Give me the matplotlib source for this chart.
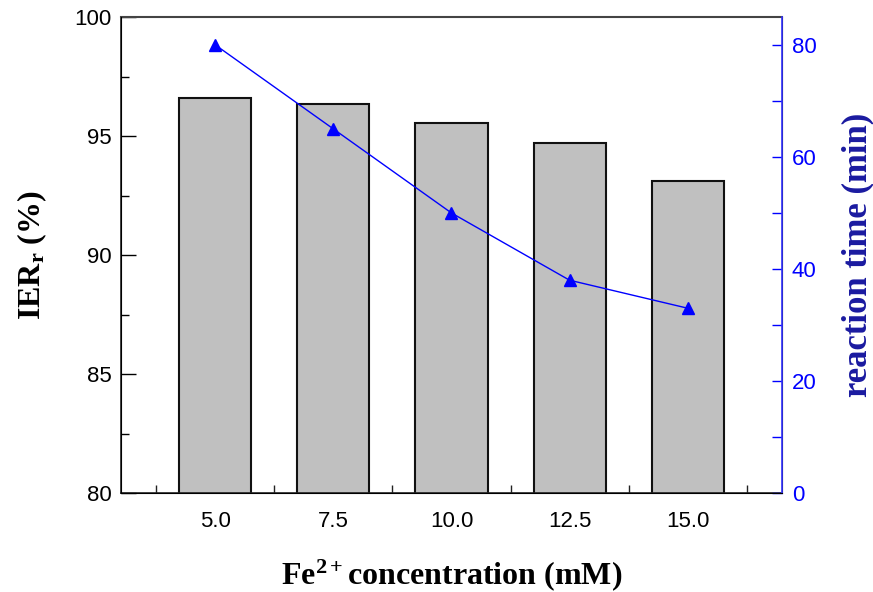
import matplotlib
matplotlib.use("Agg")
import matplotlib.pyplot as plt
from matplotlib.ticker import MultipleLocator, FixedLocator

categories = ["5.0", "7.5", "10.0", "12.5", "15.0"]
ier_values = [96.6, 96.35, 95.55, 94.7, 93.1]
time_values = [80, 65, 50, 38, 33]

plt.rcParams["font.family"] = ["Liberation Sans", "DejaVu Sans"]
plt.rcParams["mathtext.fontset"] = "custom"
plt.rcParams["mathtext.rm"] = "Liberation Serif:bold"
plt.rcParams["mathtext.bf"] = "Liberation Serif:bold"
plt.rcParams["mathtext.it"] = "Liberation Serif:bold"
plt.rcParams["mathtext.default"] = "bf"

fig = plt.figure(figsize=(8.73, 5.92), dpi=100)
ax = fig.add_axes([121/873, 1-493/592, (782-121)/873, (493-17)/592])
x = list(range(1, len(categories)+1))
ax.bar(x, ier_values, width=0.61, bottom=0, color="#c0c0c0", edgecolor="#111111", linewidth=1.5, zorder=2)
ax.set_ylim(80, 100)
ax.set_xlim(0.2, 5.8)
ax.set_xticks(x)
ax.set_xticklabels(categories)
ax.xaxis.set_minor_locator(FixedLocator([i + 0.5 for i in range(0, 6)]))
ax.tick_params(axis="x", which="major", length=0, pad=13, labelsize=16)
ax.tick_params(axis="x", which="minor", direction="in", length=6, width=1, color="#222222")
ax.yaxis.set_major_locator(MultipleLocator(5))
ax.yaxis.set_minor_locator(MultipleLocator(2.5))
ax.tick_params(axis="y", which="major", direction="in", length=11, width=1, labelsize=16, pad=7)
ax.tick_params(axis="y", which="minor", direction="in", length=6, width=1)
for s in ["left", "bottom"]:
    ax.spines[s].set_color("#222222")
    ax.spines[s].set_linewidth(1.2)
ax.spines["top"].set_color("#444444")
ax.spines["top"].set_linewidth(1.5)
ax.set_ylabel("IER$_{r}$ (%)", fontfamily="Liberation Serif", fontweight="bold", fontsize=23, labelpad=18)
ax.set_xlabel("Fe$^{2+}$concentration (mM)", fontfamily="Liberation Serif", fontweight="bold", fontsize=23, labelpad=18)

ax2 = ax.twinx()
ax2.plot(x, time_values, color="#0000ff", linewidth=1, marker="^", markersize=8, zorder=3)
ax2.set_ylim(0, 85)
ax2.yaxis.set_major_locator(MultipleLocator(20))
ax2.yaxis.set_minor_locator(MultipleLocator(10))
ax2.tick_params(axis="y", which="major", direction="in", length=7, width=1, colors="#0000ff", labelsize=16, pad=7)
ax2.tick_params(axis="y", which="minor", direction="in", length=7, width=1, colors="#0000ff")
ax2.spines["right"].set_color("#3333ff")
ax2.spines["right"].set_linewidth(1.2)
ax2.spines["top"].set_visible(False)
ax2.set_ylabel("reaction time (min)", color="#1a1aa0", fontfamily="Liberation Serif", fontweight="bold", fontsize=25, labelpad=18)

fig.savefig("out.png", dpi=100)
